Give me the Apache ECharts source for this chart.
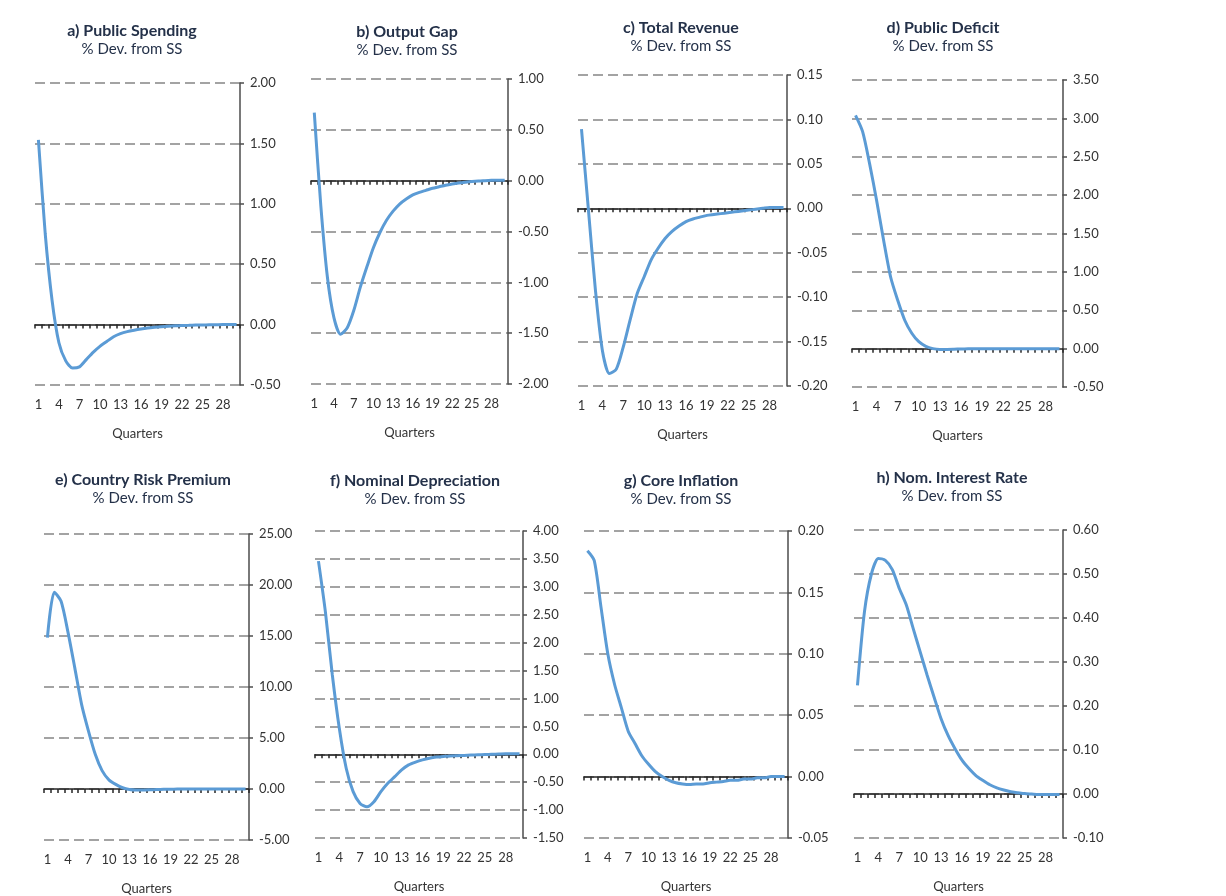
<!DOCTYPE html>
<html>
<head>
<meta charset="utf-8">
<script src="https://cdn.jsdelivr.net/npm/echarts@6/dist/echarts.min.js"></script>
<style>html,body{margin:0;padding:0;background:#fff}#c{width:1226px;height:896px}</style>
</head>
<body>
<div id="c"></div>
<script>
const quarters = ['1','2','3','4','5','6','7','8','9','10','11','12','13','14','15','16','17','18','19','20','21','22','23','24','25','26','27','28','29','30'];

const titles = ['a) Public Spending','b) Output Gap','c) Total Revenue','d) Public Deficit','e) Country Risk Premium','f) Nominal Depreciation','g) Core Inflation','h) Nom. Interest Rate'];
const subtitle = '% Dev. from SS';

const publicSpending = [1.53,0.75,0.20,-0.15,-0.30,-0.36,-0.35,-0.29,-0.23,-0.18,-0.14,-0.10,-0.075,-0.058,-0.046,-0.036,-0.028,-0.022,-0.017,-0.013,-0.010,-0.008,-0.006,-0.004,-0.003,-0.002,-0.001,0.0,0.0,0.0];
const outputGap = [0.67,-0.25,-0.95,-1.35,-1.51,-1.45,-1.28,-1.05,-0.85,-0.66,-0.51,-0.39,-0.30,-0.23,-0.18,-0.14,-0.115,-0.095,-0.075,-0.06,-0.045,-0.033,-0.023,-0.015,-0.008,-0.003,0.0,0.003,0.005,0.005];
const totalRevenue = [0.089,-0.002,-0.092,-0.160,-0.186,-0.181,-0.156,-0.125,-0.096,-0.077,-0.058,-0.045,-0.034,-0.026,-0.020,-0.015,-0.012,-0.010,-0.008,-0.007,-0.006,-0.005,-0.004,-0.003,-0.002,-0.001,0.0,0.001,0.001,0.001];
const publicDeficit = [3.04,2.83,2.41,1.93,1.41,0.93,0.63,0.37,0.20,0.09,0.03,0.0,-0.01,-0.01,-0.008,-0.005,-0.003,-0.002,-0.001,0.0,0.0,0.0,0.0,0.0,0.0,0.0,0.0,0.0,0.0,0.0];
const countryRisk = [14.85,19.3,18.4,15.4,11.9,8.3,5.7,3.4,1.8,0.9,0.45,0.12,-0.05,-0.1,-0.1,-0.08,-0.05,-0.03,-0.02,-0.01,0.0,0.0,0.0,0.0,0.0,0.0,0.0,0.0,0.0,0.0];
const nominalDepreciation = [3.46,2.55,1.42,0.47,-0.25,-0.67,-0.88,-0.94,-0.85,-0.67,-0.52,-0.40,-0.28,-0.19,-0.14,-0.10,-0.07,-0.05,-0.04,-0.03,-0.025,-0.02,-0.015,-0.01,-0.005,0.0,0.005,0.01,0.01,0.01];
const coreInflation = [0.184,0.176,0.138,0.100,0.075,0.056,0.037,0.027,0.017,0.010,0.004,0.0,-0.003,-0.005,-0.006,-0.0065,-0.006,-0.006,-0.005,-0.0045,-0.004,-0.003,-0.003,-0.002,-0.002,-0.001,-0.001,0.0,0.0,0.0];
const nomInterestRate = [0.247,0.414,0.50,0.535,0.531,0.51,0.467,0.43,0.376,0.323,0.27,0.22,0.171,0.133,0.103,0.077,0.058,0.042,0.031,0.021,0.014,0.009,0.005,0.003,0.001,0.0,-0.001,-0.001,-0.001,-0.001];

const yMin = [-0.5,-2,-0.2,-0.5,-5,-1.5,-0.05,-0.1];
const yMax = [2,1,0.15,3.5,25,4,0.2,0.6];
const yStep = [0.5,0.5,0.05,0.5,5,0.5,0.05,0.1];

const seriesData = [publicSpending,outputGap,totalRevenue,publicDeficit,countryRisk,nominalDepreciation,coreInflation,nomInterestRate];

// layout (pixels): grid left, top, width, height; title centre x, title top
const grids = [
  {left:35, top:83, width:205, height:302, tx:132, ty:21},
  {left:311, top:79, width:197, height:305, tx:407, ty:22},
  {left:578, top:75, width:209, height:311, tx:681, ty:18},
  {left:852, top:80, width:211, height:307, tx:943, ty:18},
  {left:44, top:534, width:205, height:307, tx:143, ty:470},
  {left:315, top:531, width:208, height:307, tx:415, ty:471},
  {left:584, top:531, width:204, height:307, tx:681, ty:471},
  {left:854, top:530, width:209, height:308, tx:952, ty:468}
];

const FONT = 'Lato, "Open Sans", sans-serif';
const titleColor = '#243149';
const option = {
  backgroundColor:'#fff',
  animation:false,
  textStyle:{fontFamily:FONT},
  title:[], grid:[], xAxis:[], yAxis:[], series:[]
};

grids.forEach((g,i)=>{
  option.title.push({
    text:titles[i], subtext:subtitle,
    left:g.tx, top:g.ty, textAlign:'center', itemGap:0, padding:0,
    textStyle:{fontFamily:FONT,fontSize:16,fontWeight:'bold',color:titleColor,lineHeight:19},
    subtextStyle:{fontFamily:FONT,fontSize:15,color:titleColor,lineHeight:18}
  });
  option.grid.push({left:g.left, top:g.top, width:g.width, height:g.height, containLabel:false});
  option.xAxis.push({
    type:'category', gridIndex:i, data:quarters, boundaryGap:true,
    axisLine:{onZero:true, lineStyle:{color:'#262626', width:1.5}},
    axisTick:{show:true, interval:0, length:4, inside:false, lineStyle:{color:'#262626', width:1.5}},
    axisLabel:{show:false}, splitLine:{show:false}
  });
  option.xAxis.push({
    type:'category', gridIndex:i, data:quarters, boundaryGap:true, position:'bottom',
    axisLine:{show:false, onZero:false}, axisTick:{show:false}, splitLine:{show:false},
    axisLabel:{interval:2, margin:13, fontSize:13, color:'#333', fontFamily:FONT},
    name:'Quarters', nameLocation:'middle', nameGap:42,
    nameTextStyle:{fontSize:13, color:'#333', fontFamily:FONT}
  });
  option.yAxis.push({
    type:'value', gridIndex:i, position:'right', min:yMin[i], max:yMax[i], interval:yStep[i],
    axisLine:{show:true, lineStyle:{color:'#4d4d4d', width:1.5}},
    axisTick:{show:true, length:4, lineStyle:{color:'#4d4d4d', width:1.5}},
    axisLabel:{margin:10, fontSize:13, color:'#333', fontFamily:FONT, formatter:v=>v.toFixed(2)},
    splitLine:{show:true, lineStyle:{color:'#a3a3a3', width:2.2, type:[10,5]}}
  });
  option.series.push({
    type:'line', xAxisIndex:i*2, yAxisIndex:i, data:seriesData[i],
    symbol:'none', smooth:0.25, z:5,
    lineStyle:{color:'#5b9bd5', width:3}
  });
});

const chart = echarts.init(document.getElementById('c'), null, {renderer:'canvas'});
chart.setOption(option);
</script>
</body>
</html>
